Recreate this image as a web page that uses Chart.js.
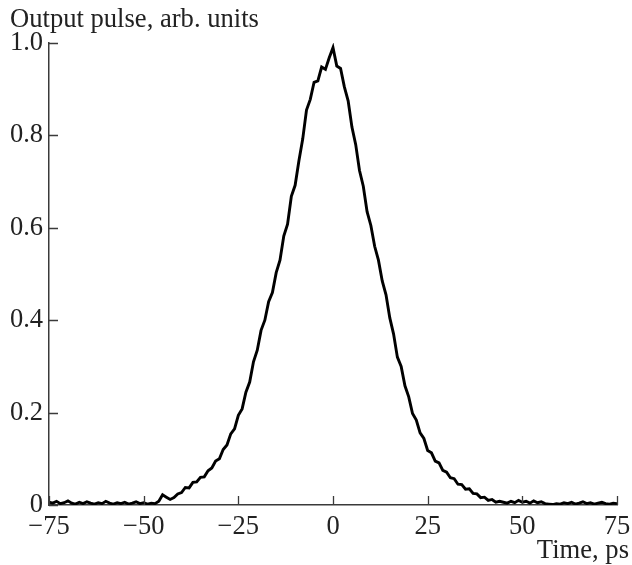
<!DOCTYPE html>
<html>
<head>
<meta charset="utf-8">
<script src="https://cdn.jsdelivr.net/npm/chart.js@4.4.1/dist/chart.umd.min.js"></script>
<style>
  html, body { margin: 0; padding: 0; background: #fff; }
  #wrap { width: 632px; height: 565px; }
</style>
</head>
<body>
<div id="wrap"><canvas id="pulse"></canvas></div>
<script>
// time axis, ps
var times = [
  -75,-74,-73,-72,-71,-70,-69,-68,-67,-66,
  -65,-64,-63,-62,-61,-60,-59,-58,-57,-56,
  -55,-54,-53,-52,-51,-50,-49,-48,-47,-46,
  -45,-44,-43,-42,-41,-40,-39,-38,-37,-36,
  -35,-34,-33,-32,-31,-30,-29,-28,-27,-26,
  -25,-24,-23,-22,-21,-20,-19,-18,-17,-16,
  -15,-14,-13,-12,-11,-10,-9,-8,-7,-6,
  -5,-4,-3,-2,-1,0,1,2,3,4,
  5,6,7,8,9,10,11,12,13,14,
  15,16,17,18,19,20,21,22,23,24,
  25,26,27,28,29,30,31,32,33,34,
  35,36,37,38,39,40,41,42,43,44,
  45,46,47,48,49,50,51,52,53,54,
  55,56,57,58,59,60,61,62,63,64,
  65,66,67,68,69,70,71,72,73,74,
  75
];

// output pulse, arb. units
var pulse = [
  0.006,0.004,0.008,0.003,0.005,0.009,0.004,0.002,0.006,0.003,
  0.007,0.004,0.002,0.005,0.003,0.008,0.004,0.002,0.005,0.003,
  0.006,0.002,0.004,0.007,0.003,0.005,0.002,0.004,0.003,0.008,
  0.022,0.017,0.012,0.016,0.024,0.027,0.038,0.037,0.049,0.050,
  0.060,0.061,0.074,0.080,0.095,0.100,0.120,0.130,0.154,0.165,
  0.194,0.208,0.244,0.266,0.310,0.335,0.378,0.400,0.440,0.460,
  0.503,0.530,0.582,0.608,0.668,0.692,0.745,0.792,0.855,0.878,
  0.915,0.918,0.948,0.943,0.968,0.990,0.950,0.945,0.905,0.875,
  0.818,0.780,0.724,0.690,0.635,0.605,0.560,0.530,0.485,0.455,
  0.405,0.370,0.320,0.300,0.258,0.234,0.198,0.184,0.156,0.144,
  0.118,0.113,0.095,0.091,0.075,0.071,0.059,0.057,0.045,0.044,
  0.034,0.035,0.025,0.024,0.016,0.017,0.010,0.012,0.006,0.008,
  0.006,0.004,0.008,0.005,0.010,0.006,0.008,0.004,0.009,0.005,
  0.007,0.003,0.002,0.001,0.003,0.002,0.005,0.003,0.006,0.002,
  0.004,0.007,0.003,0.005,0.002,0.004,0.006,0.003,0.002,0.004,
  0.003
];

var xTicks = [-75, -50, -25, 0, 25, 50, 75];
var yTicks = [0, 0.2, 0.4, 0.6, 0.8, 1.0];

var FONT = "'Liberation Serif', 'Times New Roman', serif";
var AXIS = "#3a3a3a";

var points = [];
for (var i = 0; i < times.length; i++) {
  points.push({ x: times[i], y: pulse[i] });
}

// inward tick marks and the two axis captions
var decor = {
  id: "decor",
  afterDraw: function(chart) {
    var ctx = chart.ctx;
    var xs = chart.scales.x, ys = chart.scales.y;
    var area = chart.chartArea;
    ctx.save();
    ctx.strokeStyle = AXIS;
    ctx.lineWidth = 1.3;
    ctx.beginPath();
    xTicks.forEach(function(v) {
      var px = Math.round(xs.getPixelForValue(v)) + 0.5;
      ctx.moveTo(px, area.bottom);
      ctx.lineTo(px, area.bottom - 9);
    });
    yTicks.forEach(function(v) {
      var py = Math.round(ys.getPixelForValue(v)) + 0.5;
      ctx.moveTo(area.left, py);
      ctx.lineTo(area.left + 9, py);
    });
    ctx.stroke();

    ctx.fillStyle = "#222";
    ctx.font = "26.6px " + FONT;
    ctx.textBaseline = "alphabetic";
    ctx.textAlign = "left";
    ctx.fillText("Output pulse, arb. units", 10, 27);
    ctx.textAlign = "right";
    ctx.fillText("Time, ps", 629, 558);
    ctx.restore();
  }
};

new Chart(document.getElementById("pulse"), {
  type: "line",
  data: {
    datasets: [{
      data: points,
      borderColor: "#000",
      borderWidth: 2.9,
      pointRadius: 0,
      tension: 0,
      fill: false
    }]
  },
  options: {
    responsive: true,
    maintainAspectRatio: false,
    animation: false,
    layout: { padding: { left: 0, right: 15, top: 43, bottom: 0 } },
    plugins: { legend: { display: false }, tooltip: { enabled: false } },
    scales: {
      x: {
        type: "linear",
        min: -75,
        max: 75,
        afterFit: function(s) { s.height = 60; s.paddingLeft = 0; s.paddingRight = 0; },
        afterBuildTicks: function(s) { s.ticks = xTicks.map(function(v) { return { value: v }; }); },
        grid: { display: true, drawOnChartArea: false, drawTicks: false },
        border: { display: true, color: AXIS, width: 1.5 },
        ticks: {
          padding: 6,
          color: "#222",
          font: { family: FONT, size: 26.5 },
          maxRotation: 0,
          callback: function(v) { return v < 0 ? "\u2212" + Math.abs(v) : String(v); }
        }
      },
      y: {
        min: 0,
        max: 1,
        afterFit: function(s) { s.width = 49; s.paddingTop = 0; s.paddingBottom = 0; },
        afterBuildTicks: function(s) { s.ticks = yTicks.map(function(v) { return { value: v }; }); },
        grid: { display: true, drawOnChartArea: false, drawTicks: false },
        border: { display: true, color: AXIS, width: 1.5 },
        ticks: {
          padding: 6,
          color: "#222",
          font: { family: FONT, size: 26.5 },
          callback: function(v) { return v === 0 ? "0" : v.toFixed(1); }
        }
      }
    }
  },
  plugins: [decor]
});
</script>
</body>
</html>
